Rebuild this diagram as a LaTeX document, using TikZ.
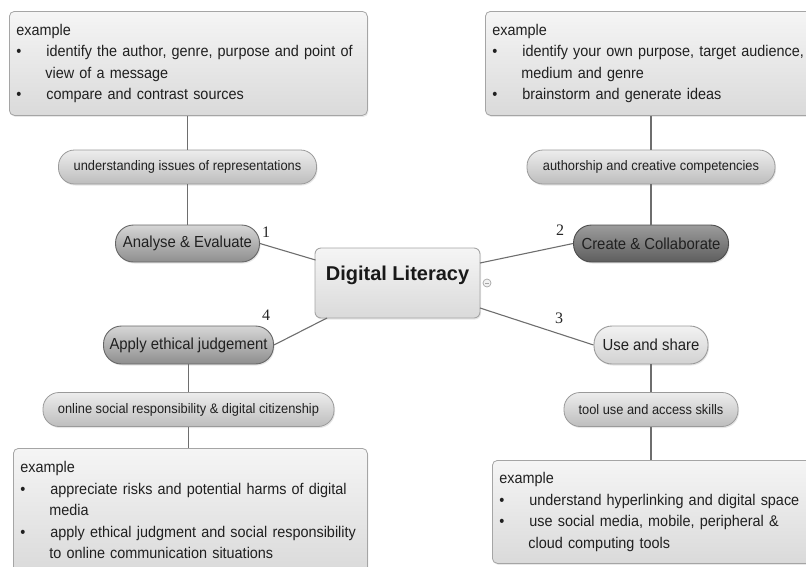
\documentclass[tikz,border=0pt]{standalone}
\usepackage{fontspec}
\setmainfont{Liberation Sans}
\newfontfamily\narrowfont[FakeStretch=0.93]{Liberation Sans}
\newfontfamily\numfont{Liberation Serif}
\usetikzlibrary{shadows}
\definecolor{linegray}{HTML}{6E6E6E}
\definecolor{boxtop}{HTML}{F5F5F5}
\definecolor{boxbot}{HTML}{DADADA}
\definecolor{boxdraw}{HTML}{A5A5A5}
\definecolor{pilltop}{HTML}{EDEDED}
\definecolor{pillbot}{HTML}{BDBDBD}
\definecolor{pilldraw}{HTML}{9A9A9A}
\definecolor{midtop}{HTML}{D6D6D6}
\definecolor{midbot}{HTML}{8E8E8E}
\definecolor{darktop}{HTML}{9C9C9C}
\definecolor{darkbot}{HTML}{5E5E5E}
\definecolor{lighttop}{HTML}{F2F2F2}
\definecolor{lightbot}{HTML}{D2D2D2}
\definecolor{txt}{HTML}{202020}
\tikzset{
  conn/.style={draw=linegray, line width=1.1pt},
  exbox/.style={draw=boxdraw, line width=0.8pt, rounded corners=5pt,
    top color=boxtop, bottom color=boxbot, inner xsep=7pt, inner ysep=0pt,
    align=left, text=txt, font=\narrowfont\fontsize{15.5}{21.5}\selectfont,
    drop shadow={opacity=0.18, shadow xshift=1pt, shadow yshift=-1.5pt}},
  pill/.style={draw=pilldraw, line width=0.8pt, rounded corners=16pt,
    top color=pilltop, bottom color=pillbot, inner sep=0pt, text=txt,
    minimum height=34pt, font=\narrowfont\fontsize{13.8}{15}\selectfont,
    drop shadow={opacity=0.2, shadow xshift=1pt, shadow yshift=-1.5pt}},
  topic/.style={draw=pilldraw, line width=0.9pt, rounded corners=18pt,
    inner sep=0pt, text=txt, minimum height=37pt,
    font=\narrowfont\fontsize{16}{17}\selectfont,
    drop shadow={opacity=0.2, shadow xshift=1pt, shadow yshift=-1.5pt}},
  midtopic/.style={topic, top color=midtop, bottom color=midbot, draw=gray!80!black},
  darktopic/.style={topic, top color=darktop, bottom color=darkbot, draw=black!70},
  lighttopic/.style={topic, top color=lighttop, bottom color=lightbot},
  numlbl/.style={font=\numfont\fontsize{16}{18}\selectfont, text=black!85, inner sep=0pt},
}
\newcommand{\bul}[1]{\mbox{\makebox[30pt][l]{•}#1}}
\newcommand{\ind}[1]{\mbox{\hspace*{29pt}#1}}
\begin{document}
\begin{tikzpicture}[x=1pt,y=-1pt]
\useasboundingbox (0,0) rectangle (806,566);
\clip (0,0) rectangle (806,566);

% example boxes
\node[exbox, anchor=north west, minimum width=358pt, minimum height=104pt, text width=344pt] (tlbox) at (9,11)
  {example\\
   \bul{identify the author, genre, purpose and point of}\\
   \ind{view of a message}\\
   \bul{compare and contrast sources}};
\node[exbox, anchor=north west, minimum width=330pt, minimum height=104pt, text width=316pt] (trbox) at (485,11)
  {example\\
   \bul{identify your own purpose, target audience,}\\
   \ind{medium and genre}\\
   \bul{brainstorm and generate ideas}};
\node[exbox, anchor=north west, minimum width=354pt, minimum height=124pt, text width=340pt] (blbox) at (13,448)
  {example\\
   \bul{appreciate risks and potential harms of digital}\\
   \ind{media}\\
   \bul{apply ethical judgment and social responsibility}\\
   \ind{to online communication situations}};
\node[exbox, anchor=north west, minimum width=322pt, minimum height=103pt, text width=308pt] (brbox) at (492,460)
  {example\\
   \bul{understand hyperlinking and digital space}\\
   \bul{use social media, mobile, peripheral \&}\\
   \ind{cloud computing tools}};

% label pills
\node[pill, minimum width=258pt] (l1) at (187.5,167) {understanding issues of representations};
\node[pill, minimum width=248pt] (l2) at (651,167) {authorship and creative competencies};
\node[pill, minimum width=174pt] (l3) at (651,409.5) {tool use and access skills};
\node[pill, minimum width=291pt] (l4) at (188.5,409.5) {online social responsibility \& digital citizenship};

% topic pills
\node[midtopic, minimum width=144pt] (t1) at (187.5,243.5) {Analyse \& Evaluate};
\node[darktopic, minimum width=155pt] (t2) at (651,243.5) {Create \& Collaborate};
\node[lighttopic, minimum width=114pt, minimum height=38pt] (t3) at (651,345) {Use and share};
\node[midtopic, minimum width=170pt, minimum height=38pt] (t4) at (188.5,345) {Apply ethical judgement};

% central
\node[draw=boxdraw, line width=0.9pt, rounded corners=6pt, top color=boxtop, bottom color=boxbot,
  minimum width=165pt, minimum height=70pt, inner sep=0pt, text height=15pt, text depth=20pt,
  font=\bfseries\fontsize{20}{22}\selectfont, text=black!90,
  drop shadow={opacity=0.18, shadow xshift=1pt, shadow yshift=-1.5pt}] (dl) at (397.5,283) {Digital Literacy};

% collapse marker
\node[circle, draw=gray!70, fill=gray!10, line width=0.7pt, minimum size=8pt, inner sep=0pt] (cm) at (487,283) {};
\draw[gray!70, line width=0.7pt] ([xshift=-2pt]cm.center) -- ([xshift=2pt]cm.center);

% connectors
\draw[conn] (tlbox.south -| l1.north) -- (l1.north);
\draw[conn] (l1.south) -- (t1.north);
\draw[conn] (trbox.south -| l2.north) -- (l2.north);
\draw[conn] (l2.south) -- (t2.north);
\draw[conn] (t3.south) -- (l3.north);
\draw[conn] (l3.south) -- (brbox.north -| l3.south);
\draw[conn] (t4.south) -- (l4.north);
\draw[conn] (l4.south) -- (blbox.north -| l4.south);

\coordinate (c1) at (315.5,260);
\coordinate (c2) at (480,263);
\coordinate (c3) at (480,308);
\coordinate (c4) at (327,318);
\draw[conn] (t1.east) -- (c1);
\draw[conn] (c2) -- (t2.west);
\draw[conn] (c3) -- (t3.west);
\draw[conn] (t4.east) -- (c4);

% numbers
\node[numlbl] (n1) at (266,232) {1};
\node[numlbl] (n2) at (560,230) {2};
\node[numlbl] (n3) at (559,318) {3};
\node[numlbl] (n4) at (266,315) {4};
\end{tikzpicture}
\end{document}
